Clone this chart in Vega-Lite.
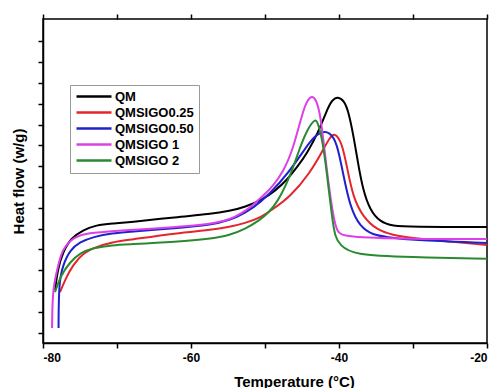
{
"$schema": "https://vega.github.io/schema/vega-lite/v6.json",
"width": 444, "height": 324,
"autosize": {"type": "none"},
"padding": {"left": 43, "top": 19, "right": 8, "bottom": 45},
"background": "white",
"data": {"values": [
{"s":"QM","t":-78.38,"h":2.05},{"s":"QM","t":-77.97,"h":3.11},{"s":"QM","t":-77.3,"h":3.88},{"s":"QM","t":-76.22,"h":4.55},{"s":"QM","t":-74.59,"h":4.93},{"s":"QM","t":-72.84,"h":5.17},{"s":"QM","t":-70.54,"h":5.25},{"s":"QM","t":-68.51,"h":5.3},{"s":"QM","t":-61.89,"h":5.56},{"s":"QM","t":-57.43,"h":5.7},{"s":"QM","t":-54.73,"h":5.85},{"s":"QM","t":-52.7,"h":6.04},{"s":"QM","t":-50.41,"h":6.38},{"s":"QM","t":-48.65,"h":6.81},{"s":"QM","t":-47.03,"h":7.34},{"s":"QM","t":-45.54,"h":8.01},{"s":"QM","t":-44.32,"h":8.63},{"s":"QM","t":-42.84,"h":9.6},{"s":"QM","t":-41.75,"h":10.6},{"s":"QM","t":-40.95,"h":11.2},{"s":"QM","t":-40.14,"h":11.36},{"s":"QM","t":-39.32,"h":11.15},{"s":"QM","t":-38.78,"h":10.7},{"s":"QM","t":-38.11,"h":9.6},{"s":"QM","t":-37.43,"h":8.15},{"s":"QM","t":-36.76,"h":6.86},{"s":"QM","t":-35.81,"h":5.89},{"s":"QM","t":-34.46,"h":5.32},{"s":"QM","t":-32.7,"h":5.12},{"s":"QM","t":-30.41,"h":5.08},{"s":"QM","t":-20,"h":5.08},
{"s":"QMSIGO0.25","t":-77.7,"h":1.95},{"s":"QMSIGO0.25","t":-76.89,"h":2.63},{"s":"QMSIGO0.25","t":-75.95,"h":3.25},{"s":"QMSIGO0.25","t":-74.59,"h":3.83},{"s":"QMSIGO0.25","t":-72.84,"h":4.12},{"s":"QMSIGO0.25","t":-70.54,"h":4.36},{"s":"QMSIGO0.25","t":-68.51,"h":4.45},{"s":"QMSIGO0.25","t":-61.89,"h":4.79},{"s":"QMSIGO0.25","t":-57.43,"h":4.93},{"s":"QMSIGO0.25","t":-54.73,"h":5.08},{"s":"QMSIGO0.25","t":-52.7,"h":5.27},{"s":"QMSIGO0.25","t":-50.68,"h":5.51},{"s":"QMSIGO0.25","t":-48.92,"h":5.94},{"s":"QMSIGO0.25","t":-46.62,"h":6.52},{"s":"QMSIGO0.25","t":-43.92,"h":7.67},{"s":"QMSIGO0.25","t":-42.16,"h":8.78},{"s":"QMSIGO0.25","t":-41.22,"h":9.4},{"s":"QMSIGO0.25","t":-40.54,"h":9.62},{"s":"QMSIGO0.25","t":-39.59,"h":9.12},{"s":"QMSIGO0.25","t":-38.92,"h":7.96},{"s":"QMSIGO0.25","t":-38.11,"h":6.52},{"s":"QMSIGO0.25","t":-36.76,"h":5.56},{"s":"QMSIGO0.25","t":-34.86,"h":4.93},{"s":"QMSIGO0.25","t":-32.7,"h":4.69},{"s":"QMSIGO0.25","t":-30.41,"h":4.55},{"s":"QMSIGO0.25","t":-20,"h":4.21},
{"s":"QMSIGO0.50","t":-77.9,"h":0.22},{"s":"QMSIGO0.50","t":-77.86,"h":2.43},{"s":"QMSIGO0.50","t":-77.3,"h":3.25},{"s":"QMSIGO0.50","t":-76.35,"h":3.97},{"s":"QMSIGO0.50","t":-75.0,"h":4.36},{"s":"QMSIGO0.50","t":-73.24,"h":4.6},{"s":"QMSIGO0.50","t":-70.54,"h":4.79},{"s":"QMSIGO0.50","t":-68.51,"h":4.84},{"s":"QMSIGO0.50","t":-61.89,"h":5.03},{"s":"QMSIGO0.50","t":-57.43,"h":5.17},{"s":"QMSIGO0.50","t":-54.73,"h":5.41},{"s":"QMSIGO0.50","t":-52.7,"h":5.75},{"s":"QMSIGO0.50","t":-50.68,"h":6.23},{"s":"QMSIGO0.50","t":-47.97,"h":7.19},{"s":"QMSIGO0.50","t":-45.68,"h":8.25},{"s":"QMSIGO0.50","t":-43.92,"h":9.21},{"s":"QMSIGO0.50","t":-42.57,"h":9.66},{"s":"QMSIGO0.50","t":-41.22,"h":9.66},{"s":"QMSIGO0.50","t":-40.27,"h":9.12},{"s":"QMSIGO0.50","t":-39.46,"h":7.67},{"s":"QMSIGO0.50","t":-38.51,"h":6.04},{"s":"QMSIGO0.50","t":-37.16,"h":5.08},{"s":"QMSIGO0.50","t":-35.41,"h":4.69},{"s":"QMSIGO0.50","t":-33.51,"h":4.6},{"s":"QMSIGO0.50","t":-30.41,"h":4.45},{"s":"QMSIGO0.50","t":-20,"h":4.31},
{"s":"QMSIGO 1","t":-78.78,"h":0.22},{"s":"QMSIGO 1","t":-78.7,"h":2.0},{"s":"QMSIGO 1","t":-78.24,"h":2.77},{"s":"QMSIGO 1","t":-77.57,"h":3.88},{"s":"QMSIGO 1","t":-76.35,"h":4.45},{"s":"QMSIGO 1","t":-75.0,"h":4.69},{"s":"QMSIGO 1","t":-73.65,"h":4.79},{"s":"QMSIGO 1","t":-68.51,"h":4.93},{"s":"QMSIGO 1","t":-61.89,"h":5.08},{"s":"QMSIGO 1","t":-58.78,"h":5.17},{"s":"QMSIGO 1","t":-56.76,"h":5.27},{"s":"QMSIGO 1","t":-54.73,"h":5.44},{"s":"QMSIGO 1","t":-53.11,"h":5.75},{"s":"QMSIGO 1","t":-51.62,"h":6.13},{"s":"QMSIGO 1","t":-50.27,"h":6.57},{"s":"QMSIGO 1","t":-48.92,"h":7.05},{"s":"QMSIGO 1","t":-47.57,"h":7.72},{"s":"QMSIGO 1","t":-46.22,"h":8.78},{"s":"QMSIGO 1","t":-44.86,"h":10.7},{"s":"QMSIGO 1","t":-44.19,"h":11.22},{"s":"QMSIGO 1","t":-43.65,"h":11.38},{"s":"QMSIGO 1","t":-43.11,"h":11.22},{"s":"QMSIGO 1","t":-42.57,"h":10.56},{"s":"QMSIGO 1","t":-42.16,"h":9.4},{"s":"QMSIGO 1","t":-41.49,"h":7.34},{"s":"QMSIGO 1","t":-40.81,"h":5.65},{"s":"QMSIGO 1","t":-40.27,"h":4.84},{"s":"QMSIGO 1","t":-39.46,"h":4.6},{"s":"QMSIGO 1","t":-30.41,"h":4.5},{"s":"QMSIGO 1","t":-20,"h":4.5},
{"s":"QMSIGO 2","t":-78.38,"h":1.95},{"s":"QMSIGO 2","t":-77.57,"h":2.77},{"s":"QMSIGO 2","t":-76.35,"h":3.39},{"s":"QMSIGO 2","t":-75.0,"h":3.83},{"s":"QMSIGO 2","t":-73.24,"h":4.07},{"s":"QMSIGO 2","t":-70.54,"h":4.21},{"s":"QMSIGO 2","t":-68.51,"h":4.24},{"s":"QMSIGO 2","t":-61.89,"h":4.36},{"s":"QMSIGO 2","t":-57.43,"h":4.5},{"s":"QMSIGO 2","t":-54.73,"h":4.69},{"s":"QMSIGO 2","t":-52.7,"h":4.98},{"s":"QMSIGO 2","t":-50.68,"h":5.41},{"s":"QMSIGO 2","t":-49.59,"h":5.75},{"s":"QMSIGO 2","t":-48.38,"h":6.23},{"s":"QMSIGO 2","t":-46.62,"h":7.48},{"s":"QMSIGO 2","t":-45.27,"h":8.92},{"s":"QMSIGO 2","t":-44.32,"h":9.74},{"s":"QMSIGO 2","t":-43.24,"h":10.3},{"s":"QMSIGO 2","t":-42.84,"h":10.1},{"s":"QMSIGO 2","t":-42.16,"h":9.12},{"s":"QMSIGO 2","t":-41.62,"h":7.6},{"s":"QMSIGO 2","t":-40.95,"h":5.56},{"s":"QMSIGO 2","t":-40.54,"h":4.6},{"s":"QMSIGO 2","t":-39.86,"h":4.21},{"s":"QMSIGO 2","t":-38.11,"h":3.73},{"s":"QMSIGO 2","t":-30.41,"h":3.63},{"s":"QMSIGO 2","t":-20,"h":3.55}
]},
"layer": [
{
"mark": {"type": "line", "strokeWidth": 2, "interpolate": "basis"},
"encoding": {
"x": {"field": "t", "type": "quantitative",
 "scale": {"domain": [-80, -20], "nice": false, "zero": false},
 "axis": {"orient": "bottom", "values": [-80,-70,-60,-50,-40,-30,-20],
  "labelExpr": "datum.value % 20 == 0 ? '' + datum.value : ''",
  "title": "Temperature (°C)", "titleX": 251, "titleY": 43, "titleAlign": "center", "titleBaseline": "alphabetic",
  "grid": false, "tickSize": 5, "labelPadding": 4}},
"y": {"field": "h", "type": "quantitative",
 "scale": {"domain": [-0.5, 15.08], "nice": false, "zero": false},
 "axis": {"values": [0,1,2,3,4,5,6,7,8,9,10,11,12,13,14], "labels": false,
  "title": "Heat flow (w/g)", "titleX": -25, "titleY": 162, "titleAngle": -90, "titleAlign": "center", "titleBaseline": "middle",
  "grid": false, "tickSize": 5}},
"color": {"field": "s", "type": "nominal",
 "scale": {"domain": ["QM","QMSIGO0.25","QMSIGO0.50","QMSIGO 1","QMSIGO 2"],
           "range": ["#000000","#e3262b","#1f22cc","#dd40e6","#2a8a30"]},
 "legend": {"orient": "none", "legendX": 27, "legendY": 66, "title": null,
  "symbolType": "M-1,0H6", "symbolSize": 100, "symbolStrokeWidth": 2.5,
  "labelFont": "Liberation Sans", "labelFontSize": 13, "labelFontWeight": "bold", "labelColor": "black",
  "labelOffset": 27, "rowPadding": 2, "padding": 5, "strokeColor": "#999999", "fillColor": "white",
  "labelExpr": "datum.value == 'QMSIGO0.25' ? '\u2002QMSIGO0.25' : datum.label"}}
}
},
{
"mark": {"type": "point", "opacity": 0},
"encoding": {
"x": {"field": "t", "type": "quantitative",
 "axis": {"orient": "top", "values": [-80,-70,-60,-50,-40,-30,-20], "labels": false, "title": null, "grid": false, "domain": false, "tickSize": 5}}
}
}
],
"resolve": {"axis": {"x": "independent"}},
"config": {
"view": {"stroke": "black", "strokeWidth": 1.5},
"axis": {"domainColor": "black", "domainWidth": 1.5, "tickColor": "black", "tickWidth": 1.5,
 "labelFont": "Liberation Sans", "labelFontSize": 12, "labelFontWeight": "bold", "labelColor": "black",
 "titleFont": "Liberation Sans", "titleFontSize": 15, "titleFontWeight": "bold", "titleColor": "black"}
}
}
